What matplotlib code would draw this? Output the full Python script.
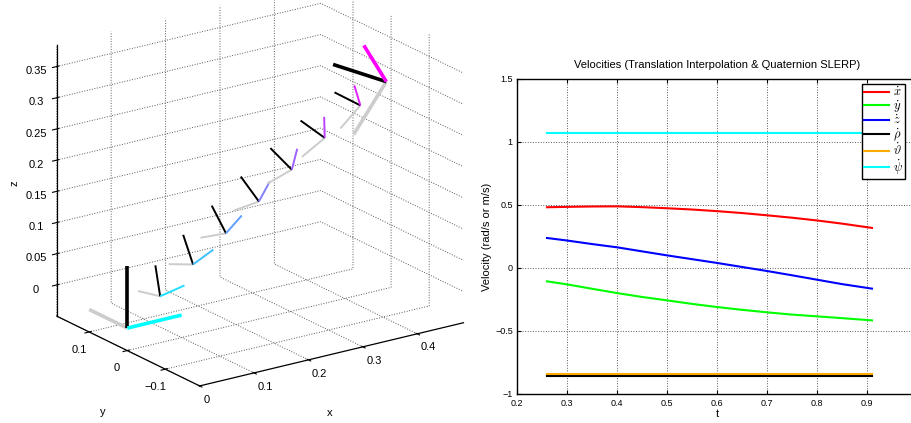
import numpy as np
import matplotlib
matplotlib.use('Agg')
from matplotlib import pyplot as plt

plt.rcParams['font.family'] = ['Liberation Sans', 'DejaVu Sans']
plt.rcParams['mathtext.fontset'] = 'cm'
plt.rcParams['grid.linestyle'] = ':'
plt.rcParams['grid.color'] = '0.35'
plt.rcParams['grid.linewidth'] = 0.7

# --- 3D frames (start pose, interpolated poses, end pose) ---
frame_x = [0.0, 0.05, 0.10, 0.15, 0.20, 0.25, 0.30, 0.355, 0.395]
frame_y = [0.0, -0.015, -0.03, -0.045, -0.06, -0.075, -0.09, -0.105, -0.116]
frame_z = [-0.014, 0.031, 0.076, 0.12, 0.165, 0.21, 0.255, 0.30, 0.333]
frame_angle = [0, 11, 23, 34, 45, 56, 68, 79, 90]   # deg about rot_axis
rot_axis = [-0.49, -0.57, 0.65]
frame_len = [0.1, 0.05, 0.05, 0.05, 0.05, 0.05, 0.05, 0.05, 0.1]
frame_lw = [2.6, 1.4, 1.4, 1.4, 1.4, 1.4, 1.4, 1.4, 2.6]
frame_col = ['#00ffff', '#20dfff', '#40bfff', '#609fff', '#8080ff',
             '#9f60ff', '#bf40ff', '#df20ff', '#ff00ff']

# --- velocities ---
t = [0.26, 0.30, 0.35, 0.40, 0.45, 0.50, 0.55, 0.60, 0.65, 0.70, 0.75, 0.80, 0.85, 0.91]
xdot = [0.482, 0.485, 0.488, 0.489, 0.483, 0.474, 0.464, 0.451, 0.436, 0.418, 0.399, 0.377, 0.352, 0.318]
ydot = [-0.106, -0.13, -0.165, -0.199, -0.23, -0.257, -0.285, -0.31, -0.332, -0.352, -0.37, -0.384, -0.398, -0.416]
zdot = [0.238, 0.218, 0.19, 0.164, 0.132, 0.10, 0.07, 0.04, 0.008, -0.024, -0.058, -0.093, -0.128, -0.164]
rhodot = [-0.858] * 14
thetadot = [-0.84] * 14
psidot = [1.07] * 14
labels = [r'$\dot{x}$', r'$\dot{y}$', r'$\dot{z}$', r'$\dot{\rho}$', r'$\dot{\vartheta}$', r'$\dot{\psi}$']
colors = ['#ff0000', '#00ff00', '#0000ff', '#000000', '#ffaa00', '#00ffff']


def axis_angle(axis, deg):
    k = np.asarray(axis, float)
    k = k / np.linalg.norm(k)
    a = np.radians(deg)
    K = np.array([[0, -k[2], k[1]], [k[2], 0, -k[0]], [-k[1], k[0], 0]])
    return np.eye(3) + np.sin(a) * K + (1 - np.cos(a)) * K @ K


fig = plt.figure(figsize=(9.11, 4.23), dpi=100)

# left: 3D frames
ax3 = fig.add_axes([0.0488, 0.0558, 0.461, 0.993], projection='3d')
ax3.set_proj_type('ortho')
ax3.view_init(elev=20, azim=-125)
ax3.set_xlim(0, 0.485)
ax3.set_ylim(-0.19, 0.185)
ax3.set_zlim(-0.05, 0.385)
ax3.set_box_aspect((0.485, 0.375, 0.435), zoom=1.154)

for i in range(len(frame_x)):
    o = np.array([frame_x[i], frame_y[i], frame_z[i]])
    R = axis_angle(rot_axis, frame_angle[i])
    for col, c in [(1, '0.8'), (2, 'k'), (0, frame_col[i])]:
        e = o + frame_len[i] * R[:, col]
        ax3.plot([o[0], e[0]], [o[1], e[1]], [o[2], e[2]], color=c,
                 lw=frame_lw[i], solid_capstyle='butt')

ax3.set_xticks([0, 0.1, 0.2, 0.3, 0.4])
ax3.set_yticks([-0.1, 0, 0.1])
ax3.set_zticks([0, 0.05, 0.1, 0.15, 0.2, 0.25, 0.3, 0.35])
ax3.set_xticklabels(['0', '0.1', '0.2', '0.3', '0.4'], ha='left')
ax3.set_yticklabels(['\u22120.1', '0', '0.1'])
ax3.set_zticklabels(['0', '0.05', '0.1', '0.15', '0.2', '0.25', '0.3', '0.35'])
for a in (ax3.xaxis, ax3.yaxis, ax3.zaxis):
    a.pane.set_visible(False)
    a.line.set_linewidth(0.9)
    a._axinfo['grid'].update(linestyle=':', color='0.35', linewidth=0.7)
ax3.tick_params(labelsize=8, pad=0)
ax3.tick_params(axis='x', pad=-4)
ax3.tick_params(axis='y', pad=-2)
# axis titles placed where the reference shows them
fig.text(330 / 911, 1 - 413 / 423, 'x', fontsize=8, ha='center', va='center')
fig.text(103 / 911, 1 - 412 / 423, 'y', fontsize=8, ha='center', va='center')
fig.text(15 / 911, 1 - 183 / 423, 'z', fontsize=8, ha='center', va='center', rotation=90)

# right: velocities
ax = fig.add_axes([0.5675, 0.0686, 0.4391, 0.7447])
for vals, lab, c in zip([xdot, ydot, zdot, rhodot, thetadot, psidot], labels, colors):
    ax.plot(t, vals, color=c, lw=1.5, label=lab)
ax.set_xlim(0.2, 1.0)
ax.set_ylim(-1, 1.5)
ax.set_xticks([0.2, 0.3, 0.4, 0.5, 0.6, 0.7, 0.8, 0.9])
ax.set_yticks([-1, -0.5, 0, 0.5, 1, 1.5])
ax.set_xticklabels(['0.2', '0.3', '0.4', '0.5', '0.6', '0.7', '0.8', '0.9'])
ax.set_yticklabels(['\u22121', '\u22120.5', '0', '0.5', '1', '1.5'])
ax.grid(True)
ax.tick_params(direction='in', length=3, labelsize=6.5, top=True, right=True)
ax.tick_params(axis='x', pad=3.5)
ax.tick_params(axis='y', pad=3)
for s in ax.spines.values():
    s.set_linewidth(1.0)
ax.set_title('Velocities (Translation Interpolation & Quaternion SLERP)', fontsize=8, pad=8)
ax.set_xlabel('t', fontsize=8, labelpad=1)
ax.set_ylabel('Velocity (rad/s or m/s)', fontsize=8, labelpad=2)
leg = ax.legend(loc='upper left', bbox_to_anchor=(0.862, 0.985), borderaxespad=0,
                fontsize=9, fancybox=False, edgecolor='k', framealpha=1,
                handlelength=2.0, handletextpad=0.3, labelspacing=-0.05,
                borderpad=0.2)
leg.get_frame().set_linewidth(1.0)

fig.savefig('out.png', dpi=100)
